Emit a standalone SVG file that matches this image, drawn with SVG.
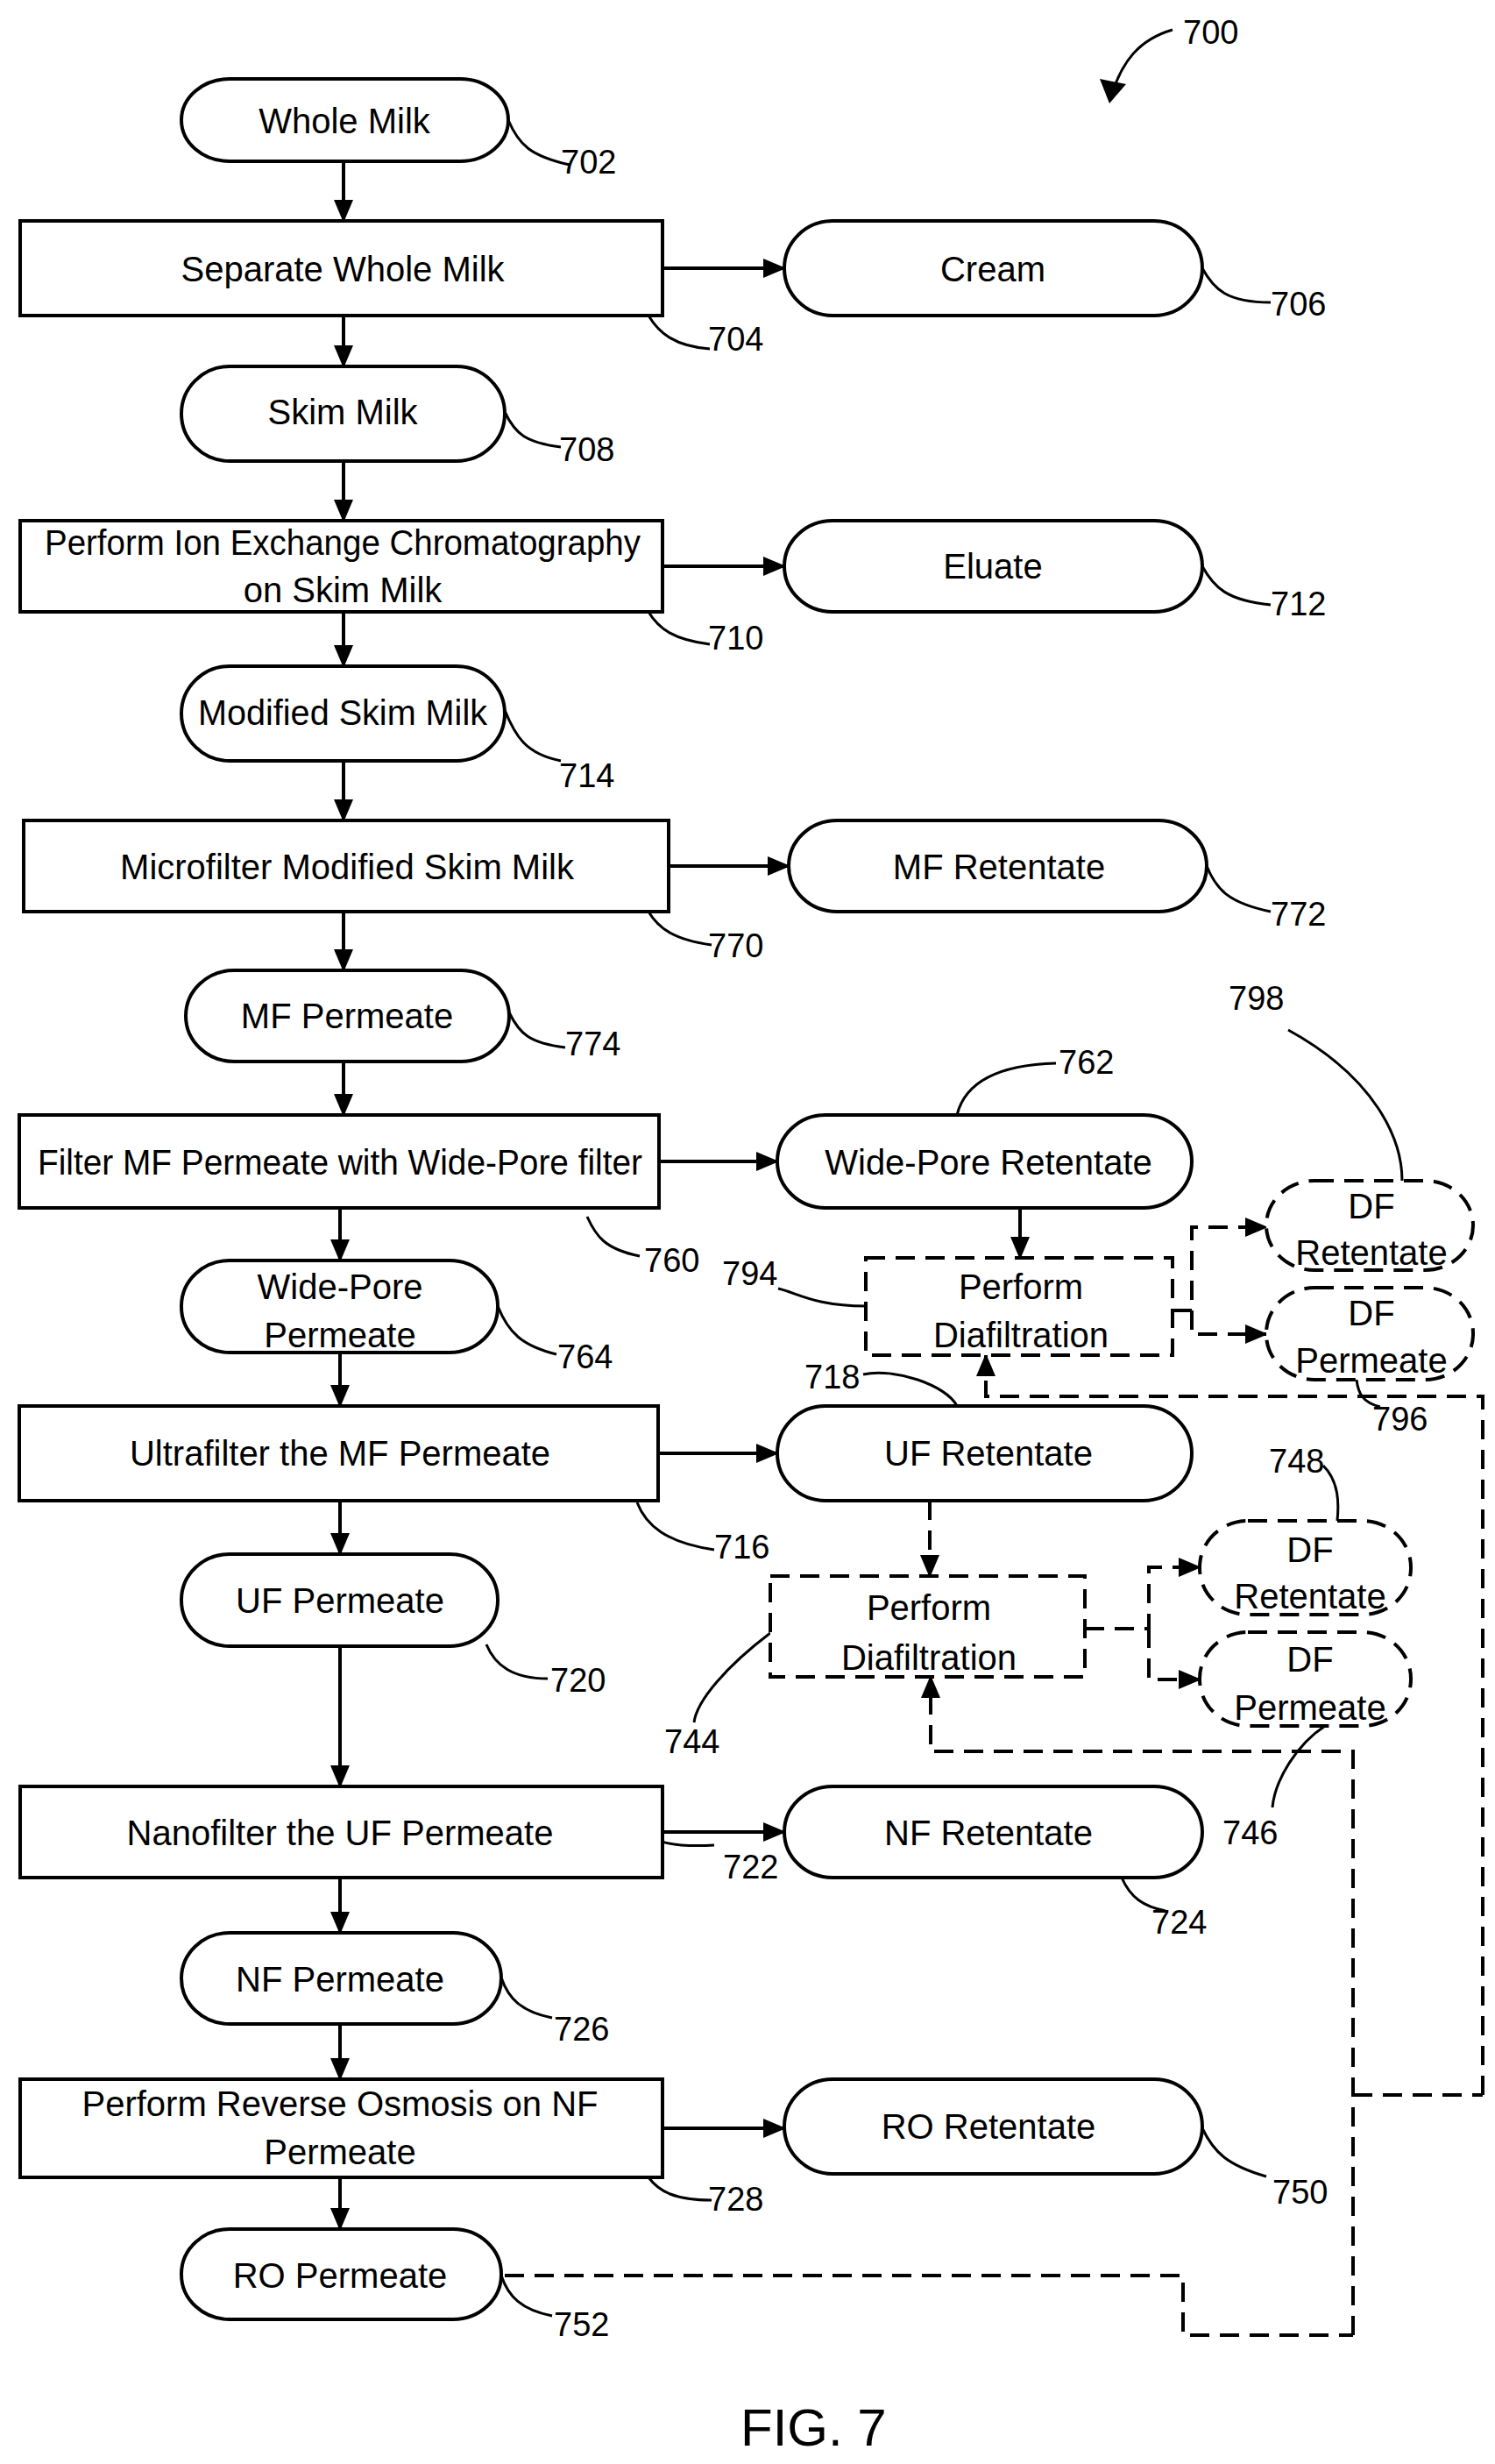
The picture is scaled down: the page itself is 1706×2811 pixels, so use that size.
<svg xmlns="http://www.w3.org/2000/svg" width="1706" height="2811" viewBox="0 0 1706 2811">
<style>
.n{fill:#fff;stroke:#000;stroke-width:4}
.d{fill:#fff;stroke:#000;stroke-width:4;stroke-dasharray:22 12}
.t{font-family:"Liberation Sans Narrow","Liberation Sans",Arial,sans-serif;font-size:40px;text-anchor:middle;fill:#000}
.r{font-family:"Liberation Sans Narrow","Liberation Sans",Arial,sans-serif;font-size:38px;fill:#000}
.c{fill:none;stroke:#000;stroke-width:4}
.cd{fill:none;stroke:#000;stroke-width:4;stroke-dasharray:22 12}
.l{fill:none;stroke:#000;stroke-width:3}
</style>
<defs>
<marker id="a" markerUnits="userSpaceOnUse" markerWidth="26" markerHeight="22" refX="24" refY="11" orient="auto"><path d="M0,0 L26,11 L0,22 Z" fill="#000"/></marker>
</defs>
<g id="connectors">
<path class="c" marker-end="url(#a)" d="M392,184V252"/>
<path class="c" marker-end="url(#a)" d="M392,360V418"/>
<path class="c" marker-end="url(#a)" d="M392,526V594"/>
<path class="c" marker-end="url(#a)" d="M392,698V760"/>
<path class="c" marker-end="url(#a)" d="M392,868V936"/>
<path class="c" marker-end="url(#a)" d="M392,1040V1107"/>
<path class="c" marker-end="url(#a)" d="M392,1211V1272"/>
<path class="c" marker-end="url(#a)" d="M388,1378V1438"/>
<path class="c" marker-end="url(#a)" d="M388,1543V1604"/>
<path class="c" marker-end="url(#a)" d="M388,1712V1773"/>
<path class="c" marker-end="url(#a)" d="M388,1878V2038"/>
<path class="c" marker-end="url(#a)" d="M388,2142V2205"/>
<path class="c" marker-end="url(#a)" d="M388,2309V2372"/>
<path class="c" marker-end="url(#a)" d="M388,2484V2543"/>
<path class="c" marker-end="url(#a)" d="M756,306H895"/>
<path class="c" marker-end="url(#a)" d="M756,646H895"/>
<path class="c" marker-end="url(#a)" d="M763,988H900"/>
<path class="c" marker-end="url(#a)" d="M752,1325H887"/>
<path class="c" marker-end="url(#a)" d="M751,1658H887"/>
<path class="c" marker-end="url(#a)" d="M756,2090H895"/>
<path class="c" marker-end="url(#a)" d="M756,2428H895"/>
<path class="c" marker-end="url(#a)" d="M1164,1378V1435"/>
<path class="cd" marker-end="url(#a)" d="M1061,1712V1798"/>
<path class="cd" marker-end="url(#a)" d="M1338,1495H1360V1400H1445"/>
<path class="cd" marker-end="url(#a)" d="M1360,1495V1522H1445"/>
<path class="cd" marker-end="url(#a)" d="M1238,1858H1311V1788H1369"/>
<path class="cd" marker-end="url(#a)" d="M1311,1858V1916H1369"/>
<path class="cd" marker-end="url(#a)" d="M1692,2390V1593H1125V1546"/>
<path class="cd" marker-end="url(#a)" d="M1544,2664V1998H1062V1913"/>
<path class="cd" d="M576,2596H1350V2664H1544M1544,2390H1692"/>
</g>
<g id="leaders">
<path class="l" d="M580,137C592,165 605,178 650,188"/>
<path class="l" d="M740,360C752,380 770,395 810,398"/>
<path class="l" d="M1372,306C1385,330 1400,345 1450,345"/>
<path class="l" d="M576,470C588,495 600,505 640,510"/>
<path class="l" d="M740,698C752,718 770,730 810,735"/>
<path class="l" d="M1372,646C1385,670 1400,685 1450,690"/>
<path class="l" d="M576,810C588,840 600,860 640,868"/>
<path class="l" d="M740,1040C752,1060 770,1072 812,1078"/>
<path class="l" d="M1377,988C1388,1015 1402,1030 1450,1040"/>
<path class="l" d="M581,1155C593,1180 605,1190 645,1195"/>
<path class="l" d="M1092,1272C1100,1240 1130,1215 1205,1213"/>
<path class="l" d="M670,1388C680,1410 690,1425 730,1433"/>
<path class="l" d="M568,1490C580,1520 595,1535 635,1545"/>
<path class="l" d="M888,1470C910,1475 930,1490 988,1490"/>
<path class="l" d="M1470,1175C1570,1230 1600,1300 1600,1347"/>
<path class="l" d="M1548,1574C1550,1590 1555,1600 1575,1605"/>
<path class="l" d="M985,1568C1020,1560 1080,1580 1092,1604"/>
<path class="l" d="M727,1714C737,1740 760,1760 815,1768"/>
<path class="l" d="M555,1876C565,1900 585,1915 625,1915"/>
<path class="l" d="M879,1863C830,1900 795,1940 792,1965"/>
<path class="l" d="M1510,1672C1528,1690 1528,1715 1526,1735"/>
<path class="l" d="M1512,1969C1480,1990 1455,2030 1452,2062"/>
<path class="l" d="M729,2088C745,2100 765,2108 815,2105"/>
<path class="l" d="M1280,2142C1290,2165 1305,2175 1330,2180"/>
<path class="l" d="M572,2256C580,2280 595,2295 630,2302"/>
<path class="l" d="M740,2484C752,2500 770,2510 812,2510"/>
<path class="l" d="M1372,2428C1385,2455 1400,2470 1445,2483"/>
<path class="l" d="M572,2596C580,2620 595,2635 630,2642"/>
<path class="l" d="M1338,34C1300,45 1280,70 1268,110"/>
<path d="M1255,90L1266,118L1285,96Z" fill="#000"/>
</g>
<g id="n702"><rect class="n" x="207" y="90" width="373" height="94" rx="55" ry="47"/><text class="t" x="393" y="152">Whole Milk</text></g>
<g id="n704"><rect class="n" x="23" y="252" width="733" height="108"/><text class="t" x="391" y="321">Separate Whole Milk</text></g>
<g id="n706"><rect class="n" x="895" y="252" width="477" height="108" rx="55" ry="54"/><text class="t" x="1133" y="321">Cream</text></g>
<g id="n708"><rect class="n" x="207" y="418" width="369" height="108" rx="55" ry="54"/><text class="t" x="391" y="484">Skim Milk</text></g>
<g id="n710"><rect class="n" x="23" y="594" width="733" height="104"/><text class="t" x="391" y="633" textLength="680" lengthAdjust="spacingAndGlyphs">Perform Ion Exchange Chromatography</text><text class="t" x="391" y="687">on Skim Milk</text></g>
<g id="n712"><rect class="n" x="895" y="594" width="477" height="104" rx="55" ry="52"/><text class="t" x="1133" y="660">Eluate</text></g>
<g id="n714"><rect class="n" x="207" y="760" width="369" height="108" rx="55" ry="54"/><text class="t" x="391" y="827" textLength="330" lengthAdjust="spacingAndGlyphs">Modified Skim Milk</text></g>
<g id="n770"><rect class="n" x="27" y="936" width="736" height="104"/><text class="t" x="396" y="1003">Microfilter Modified Skim Milk</text></g>
<g id="n772"><rect class="n" x="900" y="936" width="477" height="104" rx="55" ry="52"/><text class="t" x="1140" y="1003">MF Retentate</text></g>
<g id="n774"><rect class="n" x="212" y="1107" width="369" height="104" rx="55" ry="52"/><text class="t" x="396" y="1173">MF Permeate</text></g>
<g id="n760"><rect class="n" x="22" y="1272" width="730" height="106"/><text class="t" x="388" y="1340" textLength="690" lengthAdjust="spacingAndGlyphs">Filter MF Permeate with Wide-Pore filter</text></g>
<g id="n762"><rect class="n" x="887" y="1272" width="473" height="106" rx="55" ry="53"/><text class="t" x="1128" y="1340">Wide-Pore Retentate</text></g>
<g id="n764"><rect class="n" x="207" y="1438" width="361" height="105" rx="55" ry="52"/><text class="t" x="388" y="1482">Wide-Pore</text><text class="t" x="388" y="1537">Permeate</text></g>
<g id="n794"><rect class="d" x="988" y="1435" width="350" height="111"/><text class="t" x="1165" y="1482">Perform</text><text class="t" x="1165" y="1537">Diafiltration</text></g>
<g id="n798"><rect class="d" x="1445" y="1347" width="236" height="102" rx="55" ry="51"/><text class="t" x="1565" y="1390">DF</text><text class="t" x="1565" y="1443">Retentate</text></g>
<g id="n796"><rect class="d" x="1445" y="1469" width="236" height="105" rx="55" ry="52"/><text class="t" x="1565" y="1512">DF</text><text class="t" x="1565" y="1566">Permeate</text></g>
<g id="n716"><rect class="n" x="22" y="1604" width="729" height="108"/><text class="t" x="388" y="1672">Ultrafilter the MF Permeate</text></g>
<g id="n718"><rect class="n" x="887" y="1604" width="473" height="108" rx="55" ry="54"/><text class="t" x="1128" y="1672">UF Retentate</text></g>
<g id="n720"><rect class="n" x="207" y="1773" width="361" height="105" rx="55" ry="52"/><text class="t" x="388" y="1840">UF Permeate</text></g>
<g id="n744"><rect class="d" x="879" y="1798" width="359" height="115"/><text class="t" x="1060" y="1848">Perform</text><text class="t" x="1060" y="1905">Diafiltration</text></g>
<g id="n748"><rect class="d" x="1369" y="1735" width="241" height="107" rx="55" ry="53"/><text class="t" x="1495" y="1782">DF</text><text class="t" x="1495" y="1835">Retentate</text></g>
<g id="n746"><rect class="d" x="1369" y="1862" width="241" height="107" rx="55" ry="53"/><text class="t" x="1495" y="1907">DF</text><text class="t" x="1495" y="1962">Permeate</text></g>
<g id="n722"><rect class="n" x="23" y="2038" width="733" height="104"/><text class="t" x="388" y="2105">Nanofilter the UF Permeate</text></g>
<g id="n724"><rect class="n" x="895" y="2038" width="477" height="104" rx="55" ry="52"/><text class="t" x="1128" y="2105">NF Retentate</text></g>
<g id="n726"><rect class="n" x="207" y="2205" width="365" height="104" rx="55" ry="52"/><text class="t" x="388" y="2272">NF Permeate</text></g>
<g id="n728"><rect class="n" x="23" y="2372" width="733" height="112"/><text class="t" x="388" y="2414">Perform Reverse Osmosis on NF</text><text class="t" x="388" y="2469">Permeate</text></g>
<g id="n750"><rect class="n" x="895" y="2372" width="477" height="108" rx="55" ry="54"/><text class="t" x="1128" y="2440">RO Retentate</text></g>
<g id="n752"><rect class="n" x="207" y="2543" width="365" height="103" rx="55" ry="51"/><text class="t" x="388" y="2610">RO Permeate</text></g>
<g id="refs">
<text class="r" x="640" y="198">702</text>
<text class="r" x="808" y="400">704</text>
<text class="r" x="1450" y="360">706</text>
<text class="r" x="638" y="526">708</text>
<text class="r" x="808" y="741">710</text>
<text class="r" x="1450" y="702">712</text>
<text class="r" x="638" y="898">714</text>
<text class="r" x="808" y="1092">770</text>
<text class="r" x="1450" y="1056">772</text>
<text class="r" x="645" y="1204">774</text>
<text class="r" x="1208" y="1225">762</text>
<text class="r" x="1402" y="1152">798</text>
<text class="r" x="735" y="1451">760</text>
<text class="r" x="824" y="1466">794</text>
<text class="r" x="636" y="1561">764</text>
<text class="r" x="918" y="1584">718</text>
<text class="r" x="1566" y="1632">796</text>
<text class="r" x="1448" y="1680">748</text>
<text class="r" x="815" y="1778">716</text>
<text class="r" x="628" y="1930">720</text>
<text class="r" x="758" y="2000">744</text>
<text class="r" x="1395" y="2104">746</text>
<text class="r" x="825" y="2143">722</text>
<text class="r" x="1314" y="2206">724</text>
<text class="r" x="632" y="2328">726</text>
<text class="r" x="808" y="2522">728</text>
<text class="r" x="1452" y="2514">750</text>
<text class="r" x="632" y="2665">752</text>
<text class="r" x="1350" y="50">700</text>
<text class="r" x="845" y="2790" style="font-size:60px">FIG. 7</text>
</g>
</svg>
